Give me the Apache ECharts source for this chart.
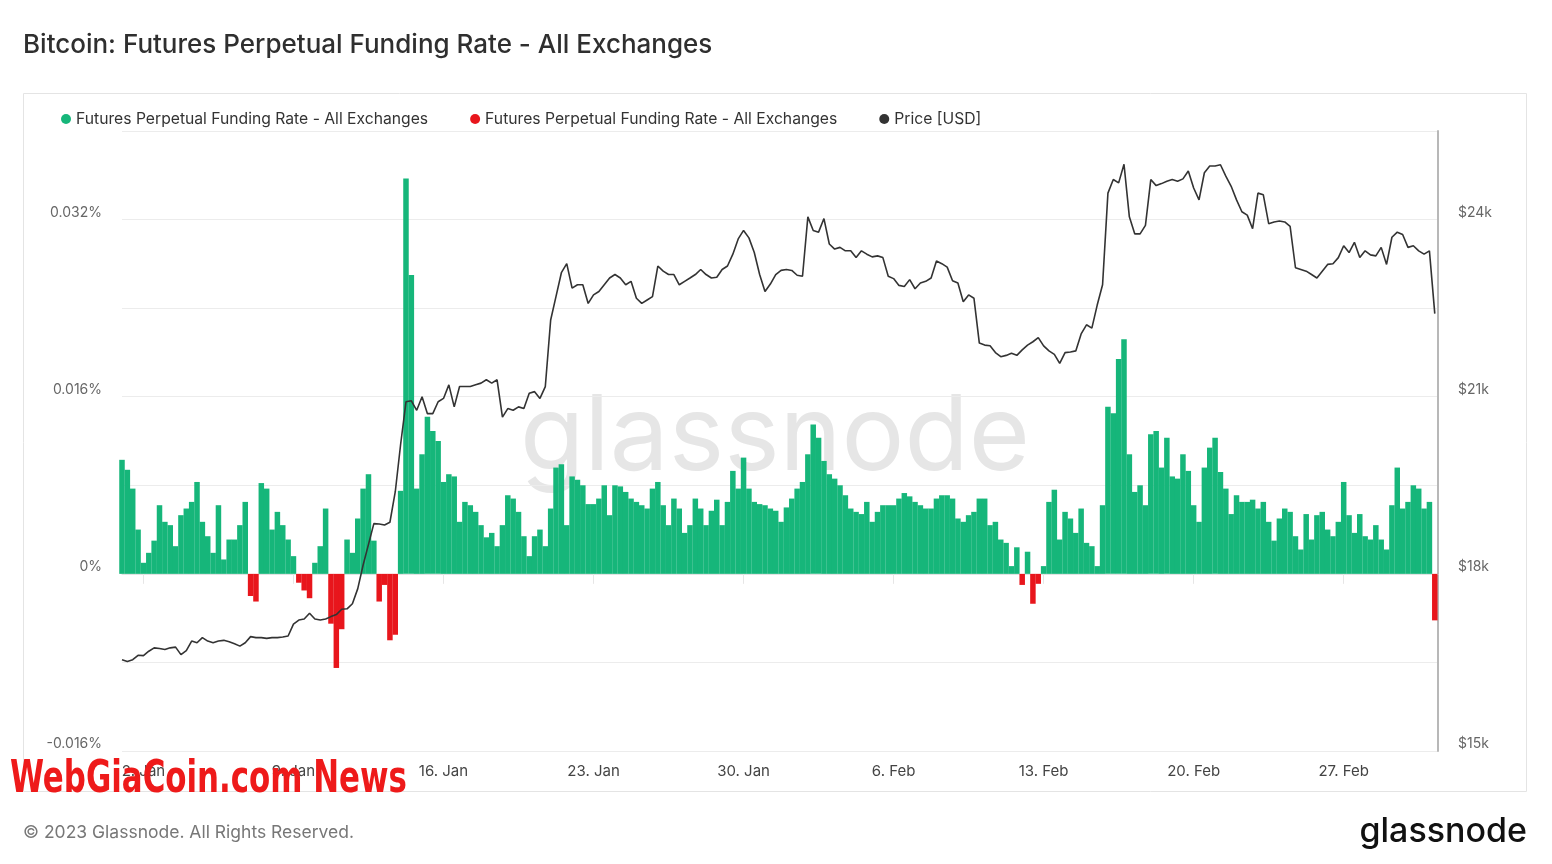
<!DOCTYPE html>
<html>
<head>
<meta charset="utf-8">
<script src="https://cdn.jsdelivr.net/npm/echarts@6/dist/echarts.min.js"></script>
<style>
html,body{margin:0;padding:0;background:#ffffff;}
#c{width:1552px;height:864px;}
</style>
</head>
<body>
<div id="c"></div>
<script>
// 6-hour samples starting 1 Jan 2023 00:00 (x in days since 1 Jan)
const stepDays = 0.25;

// Funding rate in percent
const fundingRate = [
  0.0103,0.0094,0.0077,0.0040,0.0010,0.0019,0.0030,0.0062,0.0047,0.0044,
  0.0025,0.0053,0.0059,0.0065,0.0083,0.0047,0.0034,0.0019,0.0062,0.0013,
  0.0031,0.0031,0.0044,0.0065,-0.0020,-0.0025,0.0082,0.0077,0.0040,0.0056,
  0.0044,0.0031,0.0016,-0.0008,-0.0015,-0.0022,0.0010,0.0025,0.0059,-0.0045,
  -0.0085,-0.0050,0.0031,0.0019,0.0050,0.0077,0.0090,0.0030,-0.0025,-0.0010,
  -0.0060,-0.0055,0.0075,0.0357,0.0270,0.0077,0.0108,0.0142,0.0129,0.0120,
  0.0083,0.0090,0.0088,0.0047,0.0065,0.0062,0.0056,0.0044,0.0033,0.0037,
  0.0025,0.0044,0.0071,0.0068,0.0056,0.0034,0.0016,0.0034,0.0040,0.0025,
  0.0059,0.0096,0.0099,0.0044,0.0088,0.0085,0.0080,0.0063,0.0063,0.0068,
  0.0080,0.0053,0.0080,0.0079,0.0074,0.0068,0.0065,0.0062,0.0059,0.0077,
  0.0083,0.0062,0.0044,0.0068,0.0059,0.0037,0.0044,0.0068,0.0059,0.0044,
  0.0057,0.0067,0.0044,0.0065,0.0093,0.0077,0.0105,0.0077,0.0065,0.0063,
  0.0062,0.0059,0.0057,0.0047,0.0060,0.0068,0.0077,0.0083,0.0108,0.0135,
  0.0123,0.0102,0.0090,0.0086,0.0080,0.0071,0.0059,0.0056,0.0054,0.0065,
  0.0047,0.0056,0.0062,0.0062,0.0062,0.0068,0.0073,0.0070,0.0065,0.0062,
  0.0059,0.0059,0.0068,0.0071,0.0071,0.0068,0.0050,0.0047,0.0053,0.0056,
  0.0068,0.0068,0.0044,0.0047,0.0031,0.0028,0.0007,0.0024,-0.0010,0.0020,
  -0.0027,-0.0009,0.0007,0.0065,0.0076,0.0031,0.0056,0.0050,0.0037,0.0059,
  0.0028,0.0025,0.0007,0.0062,0.0151,0.0145,0.0194,0.0212,0.0108,0.0074,
  0.0080,0.0062,0.0126,0.0129,0.0096,0.0123,0.0088,0.0086,0.0108,0.0093,
  0.0062,0.0047,0.0096,0.0114,0.0123,0.0092,0.0077,0.0054,0.0071,0.0065,
  0.0065,0.0067,0.0059,0.0065,0.0047,0.0030,0.0050,0.0059,0.0056,0.0034,
  0.0022,0.0054,0.0031,0.0053,0.0056,0.0040,0.0034,0.0047,0.0083,0.0053,
  0.0037,0.0054,0.0034,0.0031,0.0044,0.0031,0.0022,0.0062,0.0096,0.0059,
  0.0065,0.0080,0.0077,0.0059,0.0065,-0.0042
];

// BTC price, USD
const priceUSD = [
  16546,16517,16546,16621,16615,16690,16747,16736,16718,16747,
  16759,16632,16701,16862,16833,16920,16862,16833,16862,16874,
  16850,16816,16776,16833,16937,16920,16920,16908,16920,16920,
  16931,16948,17149,17218,17235,17333,17235,17218,17235,17276,
  17310,17400,17408,17494,17750,18150,18500,18850,18845,18828,
  18874,19391,20195,20914,20931,20770,21000,20713,20713,20914,
  20971,21201,20828,21172,21172,21172,21201,21230,21287,21230,
  21287,20655,20799,20770,20828,20799,21057,21086,20971,21172,
  22300,22700,23100,23253,22839,22896,22896,22580,22724,22781,
  22896,23011,23069,23011,22896,22954,22667,22580,22638,22695,
  23213,23126,23069,23069,22896,22954,23011,23069,23155,23069,
  23011,23023,23155,23213,23414,23672,23816,23690,23442,23069,
  22781,22908,23069,23140,23155,23138,23057,23040,24046,23816,
  23787,24017,23586,23500,23529,23471,23471,23356,23471,23414,
  23368,23385,23356,23040,23000,22885,22868,22983,22828,22925,
  22954,23011,23299,23253,23195,22965,22925,22609,22724,22667,
  21908,21874,21862,21747,21678,21700,21735,21701,21793,21873,
  21931,22000,21862,21776,21718,21563,21747,21758,21776,22063,
  22218,22161,22552,22896,24448,24678,24621,24937,24046,23758,
  23758,23902,24678,24575,24609,24649,24678,24649,24689,24822,
  24534,24333,24793,24908,24908,24928,24735,24563,24333,24132,
  24075,23845,24448,24419,23931,23960,23977,23960,23885,23184,
  23155,23126,23069,23011,23126,23241,23253,23356,23557,23442,
  23615,23356,23471,23402,23385,23529,23241,23701,23787,23747,
  23529,23557,23471,23414,23471,22408
];

const xTickDays = [1, 8, 15, 22, 29, 36, 43, 50, 57];
const xTickLabels = ['2. Jan','9. Jan','16. Jan','23. Jan','30. Jan','6. Feb','13. Feb','20. Feb','27. Feb'];

const seriesNames = {
  frPos: 'Futures Perpetual Funding Rate - All Exchanges',
  frNeg: 'Futures Perpetual Funding Rate - All Exchanges',
  price: 'Price [USD]'
};

const posData = fundingRate.map((v, i) => [i * stepDays, v >= 0 ? v : '-']);
const negData = fundingRate.map((v, i) => [i * stepDays, v < 0 ? v : '-']);
const priceData = priceUSD.map((v, i) => [i * stepDays, v]);

const chart = echarts.init(document.getElementById('c'), null, {renderer: 'canvas'});
const FONT = 'Inter, "Noto Sans", sans-serif';

chart.setOption({
  animation: false,
  backgroundColor: '#ffffff',
  textStyle: {fontFamily: FONT},
  grid: {left: 122, right: 114, top: 131, bottom: 113, containLabel: false},
  legend: {
    left: 56, top: 106,
    icon: 'circle', itemWidth: 10, itemHeight: 10, itemGap: 42,
    textStyle: {fontSize: 15.7, color: '#333', fontFamily: FONT},
    formatter: n => seriesNames[n],
    data: ['frPos', 'frNeg', 'price']
  },
  xAxis: {
    type: 'value', min: 0, max: 61.4,
    axisLine: {show: true, lineStyle: {color: '#e2e2e2'}},
    axisTick: {show: true, customValues: xTickDays, length: 10, lineStyle: {color: '#e6e6e6'}},
    splitLine: {show: false},
    axisLabel: {
      customValues: xTickDays, margin: 13, fontSize: 15, color: '#444', fontFamily: FONT,
      formatter: v => xTickLabels[xTickDays.indexOf(Math.round(v))] || ''
    }
  },
  yAxis: [
    {
      type: 'value', min: -0.016, max: 0.04, interval: 0.008, position: 'left',
      axisLine: {show: false}, axisTick: {show: false},
      splitLine: {show: true, lineStyle: {color: '#ececec'}},
      axisLabel: {
        margin: 20, fontSize: 14, color: '#666', verticalAlign: 'bottom', fontFamily: FONT,
        formatter: v => {
          const k = Math.round(v / 0.008);
          if (k % 2 !== 0) return '';
          return k === 0 ? '0%' : (k * 0.008).toFixed(3) + '%';
        }
      }
    },
    {
      type: 'value', min: 15000, max: 25500, interval: 1500, position: 'right',
      axisLine: {show: true, lineStyle: {color: '#b8b8b8', width: 2}}, axisTick: {show: false},
      splitLine: {show: false},
      axisLabel: {
        margin: 20, fontSize: 14, color: '#666', verticalAlign: 'bottom', fontFamily: FONT,
        formatter: v => {
          const k = Math.round((v - 15000) / 1500);
          return k % 2 === 0 ? '$' + Math.round(v / 1000) + 'k' : '';
        }
      }
    }
  ],
  series: [
    {name: 'frPos', type: 'bar', yAxisIndex: 0, data: posData, barWidth: 5.5, barGap: '-100%',
     itemStyle: {color: '#16b67a'}, z: 3},
    {name: 'frNeg', type: 'bar', yAxisIndex: 0, data: negData, barWidth: 5.5, barGap: '-100%',
     itemStyle: {color: '#e8161c'}, z: 3},
    {name: 'price', type: 'line', yAxisIndex: 1, data: priceData, symbol: 'none',
     lineStyle: {color: '#333333', width: 1.6}, itemStyle: {color: '#333333'}, z: 5}
  ],
  graphic: {elements: [
    {type: 'rect', z: 0, silent: true,
     shape: {x: 23.5, y: 93.5, width: 1503, height: 698},
     style: {fill: 'none', stroke: '#e4e4e4', lineWidth: 1}},
    {type: 'text', z: 0, silent: true, x: 775, y: 438,
     style: {text: 'glassnode', fontSize: 105, fontFamily: FONT, fontWeight: 400, fill: '#e6e6e6',
             align: 'center', verticalAlign: 'middle'}},
    {type: 'text', x: 23, y: 45,
     style: {text: 'Bitcoin: Futures Perpetual Funding Rate - All Exchanges', fontSize: 26,
             fontFamily: FONT, fontWeight: 500, fill: '#2f2f2f', verticalAlign: 'middle'}},
    {type: 'text', x: 23, y: 833,
     style: {text: '\u00A9 2023 Glassnode. All Rights Reserved.', fontSize: 17.5,
             fontFamily: FONT, fill: '#777', verticalAlign: 'middle'}},
    {type: 'text', x: 1527, y: 832,
     style: {text: 'glassnode', fontSize: 34, fontFamily: FONT, fontWeight: 500, fill: '#111',
             align: 'right', verticalAlign: 'middle'}},
    {type: 'text', z: 200, x: 10, y: 781, scaleX: 0.78,
     style: {text: 'WebGiaCoin.com News', fontSize: 44, fontFamily: '"Liberation Sans Narrow", "DejaVu Sans Condensed", sans-serif',
             fontWeight: 'bold', fill: '#ee1a1a', verticalAlign: 'middle'}}
  ]}
});
</script>
</body>
</html>
